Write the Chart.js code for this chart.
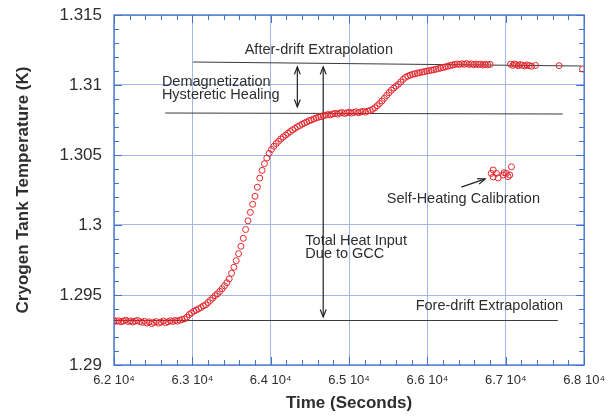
<!DOCTYPE html>
<html><head><meta charset="utf-8">
<script src="https://cdn.jsdelivr.net/npm/chart.js@4/dist/chart.umd.min.js"></script>
<style>html,body{margin:0;padding:0;background:#fff;}</style>
</head><body>
<canvas id="c" width="613" height="416"></canvas>
<script>
const times = [62000,62030,62060,62090,62120,62150,62180,62210,62240,62270,62300,62330,62360,62390,62420,62450,62480,62510,62540,62570,62600,62630,62660,62690,62720,62750,62780,62810,62840,62870,
62900,62930,62960,62990,63020,63050,63080,63110,63140,63170,63200,63230,63260,63290,63320,63350,63380,63410,63440,63470,
63500,63530,63560,63590,63620,63650,63680,63710,63740,63770,63800,63830,63860,63890,63920,63950,63980,64010,64040,64070,
64100,64130,64160,64190,64220,64250,64280,64310,64340,64370,64400,64430,64460,64490,64520,64550,64580,64610,64640,64670,
64700,64730,64760,64790,64820,64850,64880,64910,64940,64970,65000,65030,65060,65090,65120,65150,65180,65210,65240,65270,
65300,65330,65360,65390,65420,65450,65480,65510,65540,65570,65600,65630,65660,65690,65720,65750,65780,65810,65840,65870,
65900,65930,65960,65990,66020,66050,66080,66110,66140,66170,66200,66230,66260,66290,66320,66350,66380,66410,66440,66470,
66500,66530,66560,66590,66620,66650,66680,66710,66740,66770,66800];
const temps = [1.29318,1.29312,1.29316,1.29309,1.29314,1.29320,1.29311,1.29315,1.29307,1.29313,1.29318,1.29310,1.29305,1.29312,1.29300,1.29308,1.29296,1.29304,1.29310,1.29299,1.29306,1.29314,1.29302,1.29309,1.29316,1.29311,1.29318,1.29313,1.29320,1.29325,
1.29330,1.29342,1.29360,1.29372,1.29385,1.29392,1.29402,1.29410,1.29422,1.29430,1.29446,1.29462,1.29478,1.29495,1.29508,1.29526,1.29545,1.29566,1.29588,1.29615,
1.29655,1.29698,1.29745,1.29795,1.29848,1.29905,1.29968,1.30030,1.30090,1.30148,1.30205,1.30270,1.30335,1.30390,1.30438,1.30478,1.30512,1.30540,1.30562,1.30582,
1.30598,1.30615,1.30628,1.30642,1.30655,1.30668,1.30680,1.30690,1.30702,1.30710,1.30720,1.30728,1.30736,1.30745,1.30750,1.30758,1.30764,1.30770,1.30774,1.30781,
1.30784,1.30789,1.30786,1.30793,1.30797,1.30792,1.30799,1.30803,1.30797,1.30801,1.30806,1.30799,1.30804,1.30809,1.30802,1.30807,1.30812,1.30806,1.30814,1.30818,
1.30826,1.30838,1.30852,1.30868,1.30886,1.30905,1.30925,1.30945,1.30963,1.30978,1.30992,1.31005,1.31022,1.31040,1.31055,1.31063,1.31070,1.31076,1.31080,1.31085,
1.31088,1.31092,1.31095,1.31099,1.31102,1.31106,1.31109,1.31113,1.31117,1.31121,1.31125,1.31130,1.31134,1.31139,1.31143,1.31147,1.31150,1.31146,1.31152,1.31148,
1.31153,1.31147,1.31151,1.31145,1.31150,1.31146,1.31149,1.31143,1.31148,1.31144,1.31147];
const lateTimes = [67060,67090,67110,67130,67160,67180,67210,67240,67270,67300,67330,67380,67680,67980];
const lateTemps = [1.31148,1.31140,1.31150,1.31145,1.31138,1.31146,1.31141,1.31136,1.31143,1.31138,1.31134,1.31140,1.31138,1.31114];
const calTimes = [66814,66839,66839,66881,66903,66966,66979,67008,67030,67051,67072];
const calTemps = [1.30369,1.30393,1.30343,1.30369,1.30336,1.30357,1.30374,1.30369,1.30345,1.30357,1.30416];

const xTicks = [62000,63000,64000,65000,66000,67000,68000];
const xTickLabels = ['6.2 10\u2074','6.3 10\u2074','6.4 10\u2074','6.5 10\u2074','6.6 10\u2074','6.7 10\u2074','6.8 10\u2074'];
const yTicks = [1.29,1.295,1.3,1.305,1.31,1.315];
const yTickLabels = ['1.29','1.295','1.3','1.305','1.31','1.315'];
const xMinorStep = 200, yMinorStep = 0.001;

const afterDriftLine = {t:[63010,67960], T:[1.31164,1.31136]};
const demagLine = {t:[62653,67727], T:[1.30800,1.30793]};
const foreDriftLine = {t:[62000,67664], T:[1.29318,1.29318]};
const demagArrow = {t:[64340,64340], T:[1.31129,1.30843]};
const totalArrow = {t:[64670,64670], T:[1.31129,1.29343]};
const calArrow = {t:[66433,66737], T:[1.30271,1.30329]};

const noteTexts = ['After-drift Extrapolation','Demagnetization','Hysteretic Healing','Total Heat Input','Due to GCC','Self-Heating Calibration','Fore-drift Extrapolation'];
const noteT = [63668,62611,62611,64442,64442,65482,65850];
const noteV = [1.3125,1.31024,1.30929,1.29886,1.29793,1.30186,1.29421];

const FONT = "'Liberation Sans', Arial, Helvetica, sans-serif";
const TXT = '#2e2e2e';
const FRAME = '#3f72c8';
const GRID = '#a4b7e9';

function arrowHead(ctx, x, y, ang) {
  const L = 8, w = 0.38;
  ctx.beginPath();
  ctx.moveTo(x - L*Math.cos(ang - w), y - L*Math.sin(ang - w));
  ctx.lineTo(x, y);
  ctx.lineTo(x - L*Math.cos(ang + w), y - L*Math.sin(ang + w));
  ctx.stroke();
}

const deco = {
  id: 'deco',
  beforeDatasetsDraw(chart) {
    const {ctx, chartArea: a, scales: {x, y}} = chart;
    ctx.save();
    ctx.strokeStyle = FRAME; ctx.lineWidth = 1.3;
    ctx.strokeRect(a.left, a.top, a.right - a.left, a.bottom - a.top);
    ctx.lineWidth = 1;
    ctx.beginPath();
    for (let v = x.min; v <= x.max + 1; v += xMinorStep) {
      const px = Math.round(x.getPixelForValue(v)) + 0.5;
      const major = Math.abs(v % 1000) < 1;
      const len = major ? 8 : 5;
      ctx.moveTo(px, a.bottom); ctx.lineTo(px, a.bottom - len);
      ctx.moveTo(px, a.top); ctx.lineTo(px, a.top + len);
    }
    for (let k = 0; k <= Math.round((y.max - y.min) / yMinorStep); k++) {
      const v = y.min + k * yMinorStep;
      const py = Math.round(y.getPixelForValue(v)) + 0.5;
      const len = (k % 5 === 0) ? 8 : 5;
      ctx.moveTo(a.left, py); ctx.lineTo(a.left + len, py);
      ctx.moveTo(a.right, py); ctx.lineTo(a.right - len, py);
    }
    ctx.stroke();

    ctx.strokeStyle = '#3c3c3c'; ctx.lineWidth = 1.1;
    const seg = (o) => {
      const x0 = x.getPixelForValue(o.t[0]), y0 = y.getPixelForValue(o.T[0]);
      const x1 = x.getPixelForValue(o.t[1]), y1 = y.getPixelForValue(o.T[1]);
      ctx.beginPath(); ctx.moveTo(x0, y0); ctx.lineTo(x1, y1); ctx.stroke();
      return [x0, y0, x1, y1];
    };
    seg(afterDriftLine); seg(demagLine); seg(foreDriftLine);
    ctx.strokeStyle = '#222'; ctx.lineWidth = 1.2;
    let p = seg(demagArrow);
    arrowHead(ctx, p[0], p[1], -Math.PI/2); arrowHead(ctx, p[2], p[3], Math.PI/2);
    p = seg(totalArrow);
    arrowHead(ctx, p[0], p[1], -Math.PI/2); arrowHead(ctx, p[2], p[3], Math.PI/2);
    p = seg(calArrow);
    arrowHead(ctx, p[2], p[3], Math.atan2(p[3]-p[1], p[2]-p[0]));

    ctx.fillStyle = TXT;
    ctx.font = "14.5px " + FONT;
    ctx.textAlign = 'left'; ctx.textBaseline = 'middle';
    for (let i = 0; i < noteTexts.length; i++) {
      ctx.fillText(noteTexts[i], x.getPixelForValue(noteT[i]), y.getPixelForValue(noteV[i]));
    }
    ctx.restore();
  }
};

const pointStyle = {pointStyle:'circle', pointRadius:3, pointBorderWidth:1, pointBorderColor:'#e3262c', pointBackgroundColor:'rgba(0,0,0,0)', showLine:false};

new Chart(document.getElementById('c'), {
  type: 'scatter',
  data: {
    datasets: [
      Object.assign({data: times.map((t,i)=>({x:t, y:temps[i]}))}, pointStyle),
      Object.assign({data: lateTimes.map((t,i)=>({x:t, y:lateTemps[i]}))}, pointStyle),
      Object.assign({data: calTimes.map((t,i)=>({x:t, y:calTemps[i]}))}, pointStyle)
    ]
  },
  options: {
    responsive: false, animation: false, devicePixelRatio: 1,
    layout: {padding: {left: 0, right: 27, top: 15, bottom: 0}},
    plugins: {legend: {display: false}, tooltip: {enabled: false}},
    scales: {
      x: {
        type: 'linear', min: 62000, max: 68000,
        afterBuildTicks: s => { s.ticks = xTicks.map(v => ({value: v})); },
        afterFit: s => { s.height = 51; },
        ticks: {callback: v => xTickLabels[xTicks.indexOf(v)], font: {family: FONT, size: 13}, color: TXT, padding: 8, maxRotation: 0, autoSkip: false},
        grid: {color: GRID, lineWidth: 1, drawTicks: false},
        border: {display: false},
        title: {display: true, text: 'Time (Seconds)', font: {family: FONT, size: 17, weight: 'bold'}, color: TXT, padding: {top: 0, bottom: 2}}
      },
      y: {
        type: 'linear', min: 1.29, max: 1.315,
        afterBuildTicks: s => { s.ticks = yTicks.map(v => ({value: v})); },
        afterFit: s => { s.width = 114; s.paddingTop = 5; s.paddingBottom = 5; },
        ticks: {callback: v => yTickLabels[yTicks.findIndex(t => Math.abs(t - v) < 1e-9)], font: {family: FONT, size: 17}, color: TXT, padding: 12, autoSkip: false},
        grid: {color: GRID, lineWidth: 1, drawTicks: false},
        border: {display: false},
        title: {display: true, text: 'Cryogen Tank Temperature (K)', font: {family: FONT, size: 17, weight: 'bold'}, color: TXT, padding: {top: 13, bottom: 0}}
      }
    }
  },
  plugins: [deco]
});
</script>
</body></html>
